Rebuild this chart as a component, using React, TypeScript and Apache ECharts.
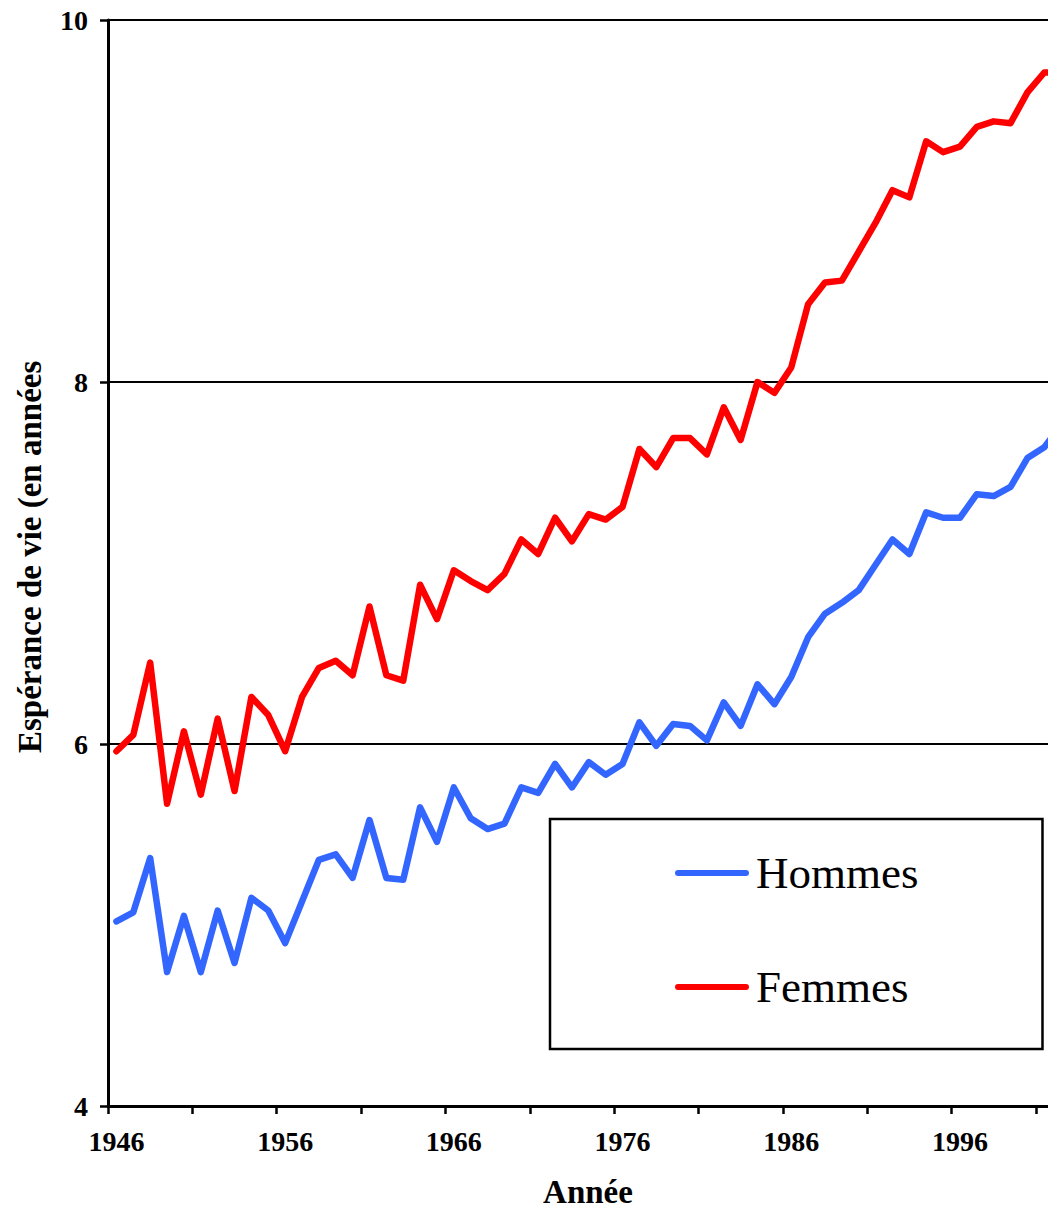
import React, { useEffect, useRef } from 'react';
import * as echarts from 'echarts';

const years = [
  '1946', '1947', '1948', '1949', '1950', '1951', '1952', '1953', '1954', '1955',
  '1956', '1957', '1958', '1959', '1960', '1961', '1962', '1963', '1964', '1965',
  '1966', '1967', '1968', '1969', '1970', '1971', '1972', '1973', '1974', '1975',
  '1976', '1977', '1978', '1979', '1980', '1981', '1982', '1983', '1984', '1985',
  '1986', '1987', '1988', '1989', '1990', '1991', '1992', '1993', '1994', '1995',
  '1996', '1997', '1998', '1999', '2000', '2001', '2002',
];

const hommes = [
  5.02, 5.07, 5.37, 4.74, 5.05, 4.74, 5.08, 4.79, 5.15, 5.08,
  4.90, 5.13, 5.36, 5.39, 5.26, 5.58, 5.26, 5.25, 5.65, 5.46,
  5.76, 5.59, 5.53, 5.56, 5.76, 5.73, 5.89, 5.76, 5.90, 5.83,
  5.89, 6.12, 5.99, 6.11, 6.10, 6.02, 6.23, 6.10, 6.33, 6.22,
  6.37, 6.59, 6.72, 6.78, 6.85, 6.99, 7.13, 7.05, 7.28, 7.25,
  7.25, 7.38, 7.37, 7.42, 7.58, 7.64, 7.76,
];

const femmes = [
  5.96, 6.05, 6.45, 5.67, 6.07, 5.72, 6.14, 5.74, 6.26, 6.16,
  5.96, 6.26, 6.42, 6.46, 6.38, 6.76, 6.38, 6.35, 6.88, 6.69,
  6.96, 6.90, 6.85, 6.94, 7.13, 7.05, 7.25, 7.12, 7.27, 7.24,
  7.31, 7.63, 7.53, 7.69, 7.69, 7.60, 7.86, 7.68, 8.00, 7.94,
  8.08, 8.43, 8.55, 8.56, 8.72, 8.88, 9.06, 9.02, 9.33, 9.27,
  9.30, 9.41, 9.44, 9.43, 9.60, 9.71, 9.71,
];

const yMin = 4;
const yMax = 10;
const yStep = 2;

const seriesNames = ['Hommes', 'Femmes'];
const seriesColors = ['#3366FF', '#FF0000'];

const xTitle = 'Année';
const yTitle = 'Espérance de vie (en années';

const SERIF = '"Liberation Serif", "Times New Roman", Times, serif';

export default function App() {
  const ref = useRef<HTMLDivElement>(null);

  useEffect(() => {
    if (!ref.current) return;
    const chart = echarts.init(ref.current, null, { renderer: 'svg' });
    const iconPath = 'path://M3,0 H71 A3,3 0 0 1 71,6 H3 A3,3 0 0 1 3,0 Z';
    chart.setOption({
      animation: false,
      backgroundColor: '#ffffff',
      grid: { left: 108, top: 20, right: 2.4, bottom: 104, containLabel: false },
      xAxis: {
        type: 'category',
        data: years,
        boundaryGap: true,
        axisLine: { show: true, lineStyle: { color: '#000', width: 3 } },
        axisTick: { show: true, interval: 4, length: 8, lineStyle: { color: '#000', width: 2.5 } },
        axisLabel: {
          interval: 9,
          margin: 21,
          color: '#000',
          fontFamily: SERIF,
          fontWeight: 'bold',
          fontSize: 28,
        },
        splitLine: { show: false },
      },
      yAxis: {
        type: 'value',
        min: yMin,
        max: yMax,
        interval: yStep,
        axisLine: { show: true, lineStyle: { color: '#000', width: 3 } },
        axisTick: { show: true, length: 8, lineStyle: { color: '#000', width: 2.5 } },
        axisLabel: {
          margin: 20,
          color: '#000',
          fontFamily: SERIF,
          fontWeight: 'bold',
          fontSize: 28,
        },
        splitLine: { show: true, lineStyle: { color: '#000', width: 2 } },
      },
      legend: {
        orient: 'vertical',
        left: 550,
        top: 819,
        backgroundColor: '#fff',
        borderColor: '#000',
        borderWidth: 2.5,
        padding: [29, 124, 37, 125],
        itemWidth: 74,
        itemHeight: 6,
        itemGap: 64,
        selectedMode: false,
        data: seriesNames.map((n, i) => ({ name: n, icon: iconPath, itemStyle: { color: seriesColors[i] } })),
        textStyle: {
          fontFamily: SERIF,
          fontSize: 45,
          color: '#000',
          lineHeight: 50,
          padding: [0, 0, 0, 2],
        },
      },
      series: [
        {
          name: seriesNames[0],
          type: 'line',
          data: hommes,
          symbol: 'none',
          color: seriesColors[0],
          lineStyle: { width: 6.5, color: seriesColors[0], cap: 'round', join: 'round' },
        },
        {
          name: seriesNames[1],
          type: 'line',
          data: femmes,
          symbol: 'none',
          color: seriesColors[1],
          lineStyle: { width: 6.5, color: seriesColors[1], cap: 'round', join: 'round' },
        },
      ],
      graphic: [
        {
          type: 'text',
          x: 588,
          y: 1192,
          style: {
            text: xTitle,
            fontFamily: SERIF,
            fontWeight: 'bold',
            fontSize: 33,
            fill: '#000',
            align: 'center',
            verticalAlign: 'middle',
            textAlign: 'center',
            textVerticalAlign: 'middle',
          },
        },
        {
          type: 'text',
          x: 30,
          y: 753,
          rotation: Math.PI / 2,
          style: {
            text: yTitle,
            fontFamily: SERIF,
            fontWeight: 'bold',
            fontSize: 33,
            fill: '#000',
            align: 'left',
            verticalAlign: 'middle',
            textAlign: 'left',
            textVerticalAlign: 'middle',
          },
        },
      ],
    });
    return () => chart.dispose();
  }, []);

  return (
    <div
      style={{
        position: 'absolute',
        left: 0,
        top: 0,
        width: 1048,
        height: 1210,
        overflow: 'hidden',
        background: '#fff',
      }}
    >
      <div ref={ref} style={{ width: 1072, height: 1210 }} />
    </div>
  );
}
